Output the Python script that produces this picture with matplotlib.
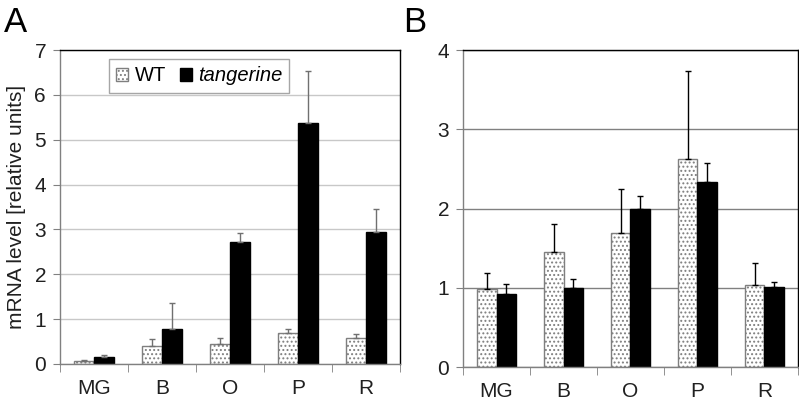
import matplotlib
matplotlib.use("Agg")
import matplotlib.pyplot as plt
import numpy as np

plt.rcParams['font.family'] = ['Liberation Sans', 'DejaVu Sans']
plt.rcParams['hatch.linewidth'] = 0.9
plt.rcParams['hatch.color'] = '#505050'

categories = ["MG", "B", "O", "P", "R"]

# Panel A
a_wt = [0.07, 0.39, 0.44, 0.68, 0.57]
a_wt_err = [0.01, 0.16, 0.15, 0.09, 0.10]
a_tan = [0.15, 0.78, 2.71, 5.37, 2.94]
a_tan_err = [0.05, 0.59, 0.20, 1.16, 0.51]

# Panel B
b_wt = [0.99, 1.45, 1.69, 2.62, 1.04]
b_wt_err = [0.19, 0.35, 0.56, 1.11, 0.27]
b_tan = [0.92, 1.00, 2.00, 2.34, 1.01]
b_tan_err = [0.13, 0.11, 0.16, 0.23, 0.06]

fig = plt.figure(figsize=(7.99, 4.03), dpi=100)
axA = fig.add_axes([0.0751, 0.0968, 0.4255, 0.7791])
axB = fig.add_axes([0.5795, 0.0893, 0.4192, 0.7866])

w = 0.29
x = np.arange(len(categories))

def draw(ax, wt, wte, tan, tane, ymax, gridcolor, errcolor):
    ax.set_axisbelow(True)
    ax.bar(x - w/2, wt, w, facecolor='white', edgecolor='#7f7f7f', hatch='....',
           linewidth=1.0, label='WT', zorder=2)
    ax.bar(x + w/2, tan, w, facecolor='black', edgecolor='black',
           linewidth=1.0, label='tangerine', zorder=2)
    ax.errorbar(x - w/2, wt, yerr=[np.zeros(len(wt)), wte], fmt='none',
                ecolor=errcolor, elinewidth=1.0, capsize=2.5, capthick=1.0, zorder=3)
    ax.errorbar(x + w/2, tan, yerr=[np.zeros(len(tan)), tane], fmt='none',
                ecolor=errcolor, elinewidth=1.0, capsize=2.5, capthick=1.0, zorder=3)
    ax.set_xlim(-0.5, len(categories) - 0.5)
    ax.set_ylim(0, ymax)
    ax.set_yticks(range(0, ymax + 1))
    ax.yaxis.grid(True, color=gridcolor, linewidth=1.0)
    ax.set_xticks(x)
    ax.set_xticklabels(categories, fontsize=15)
    ax.set_xticks(np.arange(-0.5, len(categories)), minor=True)
    ax.tick_params(axis='x', which='major', length=0, pad=11, colors='#202020')
    ax.tick_params(axis='x', which='minor', length=6, color='#808080', direction='out')
    ax.tick_params(axis='y', length=5, color='#808080', labelsize=15, pad=5, labelcolor='#202020')
    for s in ax.spines.values():
        s.set_color('black')
        s.set_linewidth(1.0)
    ax.spines['left'].set_color('#808080')
    ax.spines['bottom'].set_color('#808080')

draw(axA, a_wt, a_wt_err, a_tan, a_tan_err, 7, '#c8c8c8', '#707070')
draw(axB, b_wt, b_wt_err, b_tan, b_tan_err, 4, '#808080', 'black')

axA.set_ylabel("mRNA level [relative units]", fontsize=15, labelpad=6, color='#202020')

leg = axA.legend(loc='upper left', bbox_to_anchor=(0.145, 0.97), ncol=2, frameon=True,
                 fancybox=False, edgecolor='#909090', fontsize=14.5,
                 handlelength=0.6, handleheight=0.6, handletextpad=0.3,
                 columnspacing=0.7, borderpad=0.35, borderaxespad=0.0)
leg.get_frame().set_linewidth(1.0)
leg.get_texts()[1].set_style('italic')

fig.text(0.005, 0.985, "A", fontsize=25, va='top', ha='left')
fig.text(0.5045, 0.985, "B", fontsize=25, va='top', ha='left')

fig.savefig("out.png", dpi=100)
